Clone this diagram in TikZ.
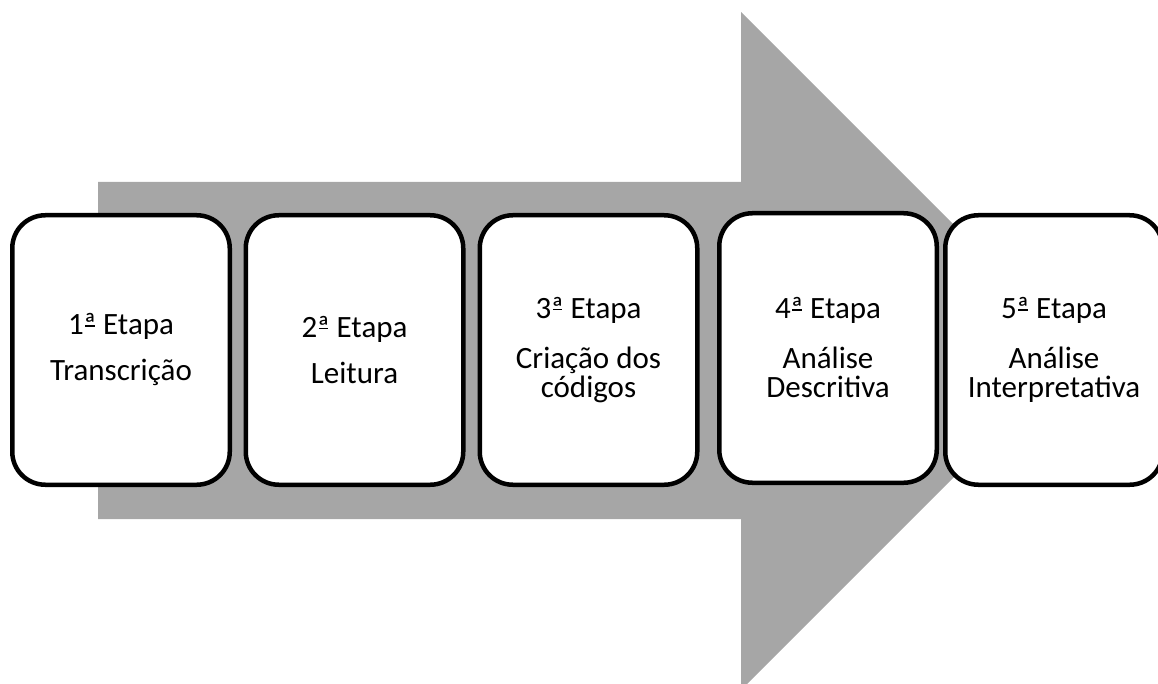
\documentclass[tikz,border=0pt]{standalone}
\usepackage{fontspec}
\setmainfont{Carlito}
\definecolor{arrowgray}{HTML}{A6A6A6}
\newcommand\ordfem{\leavevmode\setbox0\hbox{ª}\rlap{\hbox to \wd0{\hss\raisebox{0.26em}{\rule{0.3em}{0.055em}}\hss}}\box0}
\begin{document}
\begin{tikzpicture}[x=1pt,y=-1pt,
  stage/.style={draw=black, line width=4.5pt, fill=white, rounded corners=33pt,
    minimum width=217.5pt, minimum height=269.5pt, inner sep=0pt, align=center,
    font=\fontsize{31}{29}\selectfont}]
\useasboundingbox (0,0) rectangle (1158,684);
\clip (0,0) rectangle (1158,684);
\fill[arrowgray] (98,182) -- (741,182) -- (741,12) -- (1080,351) -- (741,690) -- (741,519) -- (98,519) -- cycle;
\node[stage] (s1) at (121,350) {1\ordfem{} Etapa\\[17pt]Transcrição};
\node[stage] (s2) at (354.5,350) {2\ordfem{} Etapa\\[17pt]Leitura};
\node[stage] (s3) at (588.5,350) {3\ordfem{} Etapa\\[21pt]Criação dos\\códigos};
\node[stage] (s4) at (828,348) {4\ordfem{} Etapa\\[21pt]Análise\\Descritiva};
\node[stage] (s5) at (1054,350) {5\ordfem{} Etapa\\[21pt]Análise\\Interpretativa};
\end{tikzpicture}
\end{document}
